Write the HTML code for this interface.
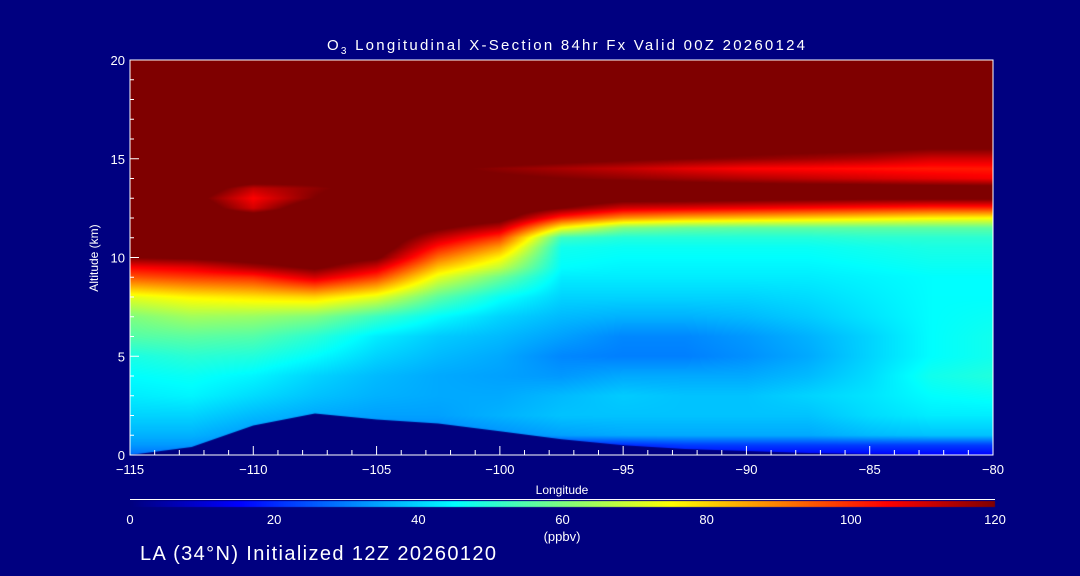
<!DOCTYPE html>
<html><head><meta charset="utf-8"><style>
html,body{margin:0;padding:0;background:#000080;width:1080px;height:576px;overflow:hidden}
#root{position:relative;width:1080px;height:576px}
canvas,svg{position:absolute;left:0;top:0}
</style></head><body>
<div id="root">
<canvas id="plot" width="1080" height="576"></canvas>
<svg id="ov" width="1080" height="576" font-family="Liberation Sans, sans-serif" fill="#fff">
<text x="566" y="50" text-anchor="middle" font-size="15" textLength="478">O<tspan font-size="10" dy="4">3</tspan><tspan dy="-4"> Longitudinal X-Section 84hr  Fx Valid 00Z 20260124</tspan></text>
<text x="98" y="258" text-anchor="middle" font-size="12" transform="rotate(-90 98 258)">Altitude (km)</text>
<text x="562" y="494" text-anchor="middle" font-size="12">Longitude</text>
<text x="562" y="541" text-anchor="middle" font-size="13">(ppbv)</text>
<text x="140" y="560" font-size="20" textLength="356">LA (34°N) Initialized 12Z 20260120</text>
<g id="axes"></g>
</svg>
</div>
<script>
const lons=[-115,-112.5,-110,-107.5,-105,-102.5,-100,-97.5,-95,-92.5,-90,-87.5,-85,-82.5,-80];
const alts=[0,0.5,1,2,3,4,5,6,7,8,9,9.5,10,10.5,11,11.5,12,12.5,13,13.5,14,14.5,15,16,18,20];
const ozone=[
[28,28,25,22,20,18,15,15,15,15,15,15,15,15,15],
[33,33,30,28,25,22,20,20,20,22,22,22,22,22,22],
[36,36,33,32,30,30,32,34,35,35,35,35,37,38,38],
[40,40,37,35,34,34,36,38,38,38,38,38,41,43,43],
[43,44,41,38,36,35,35,37,39,38,38,40,42,45,46],
[45,46,44,40,37,35,34,33,35,35,35,37,41,47,49],
[48,50,49,45,40,37,35,31,30,30,32,35,40,45,47],
[55,56,55,50,43,39,37,34,31,31,33,36,40,45,47],
[60,64,63,60,52,45,40,37,36,36,37,39,42,45,46],
[72,76,78,80,72,56,46,40,40,40,40,41,43,45,45],
[95,98,100,110,98,72,58,43,43,43,43,43,44,45,45],
[105,108,115,122,110,82,68,45,44,44,44,44,45,46,46],
[120,122,126,128,122,92,76,46,45,45,45,45,46,47,47],
[128,130,130,130,128,102,86,47,46,46,46,46,47,48,48],
[130,130,130,130,130,112,98,52,49,49,49,49,50,50,50],
[130,130,130,130,130,122,112,75,60,57,56,56,56,56,56],
[130,130,130,130,130,130,125,100,88,84,82,80,78,76,75],
[130,130,110,130,130,130,130,120,110,108,106,104,102,100,100],
[130,125,105,120,130,130,130,130,125,125,124,123,122,122,122],
[130,130,112,118,125,128,128,128,128,127,126,126,126,125,125],
[130,130,130,125,124,123,122,120,118,116,114,112,110,108,106],
[130,130,130,128,126,122,118,115,112,108,105,104,103,102,102],
[130,130,130,130,130,128,126,124,122,120,118,116,114,110,110],
[130,130,130,130,130,130,130,130,130,130,130,130,130,130,130],
[130,130,130,130,130,130,130,130,130,130,130,130,130,130,130],
[130,130,130,130,130,130,130,130,130,130,130,130,130,130,130]];
const terrain=[0,0.4,1.5,2.1,1.8,1.6,1.2,0.8,0.5,0.3,0.2,0.1,0.05,0,0];
const xTicks=[-115,-110,-105,-100,-95,-90,-85,-80];
const yTicks=[0,5,10,15,20];
const cbTicks=[0,20,40,60,80,100,120];

const X0=130,X1=993,Y0=455,Y1=60;
const xs=l=>X0+(l-lons[0])/(lons[lons.length-1]-lons[0])*(X1-X0);
const ys=a=>Y0-(a/20)*(Y0-Y1);
function jet(v){let t=Math.max(0,Math.min(1,v/120));
 const f=(p)=>Math.max(0,Math.min(1,p));
 const r=f(Math.min(4*t-1.5,-4*t+4.5)),g=f(Math.min(4*t-0.5,-4*t+3.5)),b=f(Math.min(4*t+0.5,-4*t+2.5));
 return [r*255|0,g*255|0,b*255|0];}
function idx(arr,v){for(let i=0;i<arr.length-1;i++){if(v<=arr[i+1])return [i,(v-arr[i])/(arr[i+1]-arr[i])];}return [arr.length-2,1];}
const cv=document.getElementById('plot'),ctx=cv.getContext('2d');
const img=ctx.createImageData(X1-X0,Y0-Y1);
for(let py=0;py<Y0-Y1;py++){const alt=20-(py+0.5)/(Y0-Y1)*20;
 const [j,ty]=idx(alts,alt);
 for(let px=0;px<X1-X0;px++){const lon=lons[0]+(px+0.5)/(X1-X0)*35;const [i,tx]=idx(lons,lon);
  const v=(ozone[j][i]*(1-tx)+ozone[j][i+1]*tx)*(1-ty)+(ozone[j+1][i]*(1-tx)+ozone[j+1][i+1]*tx)*ty;
  const c=jet(v);const k=(py*(X1-X0)+px)*4;img.data[k]=c[0];img.data[k+1]=c[1];img.data[k+2]=c[2];img.data[k+3]=255;}}
ctx.putImageData(img,X0,Y1);
ctx.fillStyle='#000080';ctx.beginPath();ctx.moveTo(xs(lons[0]),Y0);
terrain.forEach((h,i)=>ctx.lineTo(xs(lons[i]),ys(h)));ctx.lineTo(X1,Y0);ctx.closePath();ctx.fill();
for(let px=0;px<865;px++){const c=jet(px/865*120);ctx.fillStyle=`rgb(${c[0]},${c[1]},${c[2]})`;ctx.fillRect(130+px,501,1,6);}
const NS='http://www.w3.org/2000/svg',g=document.getElementById('axes');
function el(t,at,txt){const e=document.createElementNS(NS,t);for(const k in at)e.setAttribute(k,at[k]);if(txt!==undefined)e.textContent=txt;g.appendChild(e);return e;}
let e=el('rect',{x:X0,y:Y1,width:X1-X0,height:Y0-Y1,fill:'none',stroke:'#fff','stroke-width':1});


e=el('line',{x1:130,x2:995,y1:499.5,y2:499.5,stroke:'#fff'});


for(let l=-115;l<=-80;l++){const maj=l%5===0;e=el('line',{x1:xs(l),x2:xs(l),y1:Y0,y2:Y0-(maj?9:5),stroke:'#fff'});

}
xTicks.forEach(l=>{e=el('text',{x:xs(l),y:474,'text-anchor':'middle','font-size':13},'\u2212'+Math.abs(l));

});
for(let a=0;a<=20;a++){e=el('line',{x1:X0,x2:X0+(a%5===0?9:4),y1:ys(a),y2:ys(a),stroke:'#fff'});

}
yTicks.forEach(a=>{e=el('text',{x:125,y:ys(a)+5,'text-anchor':'end','font-size':13},a);

});
cbTicks.forEach(v=>{e=el('text',{x:130+v/120*865,y:524,'text-anchor':'middle','font-size':13},v);

});
</script>
</body></html>
